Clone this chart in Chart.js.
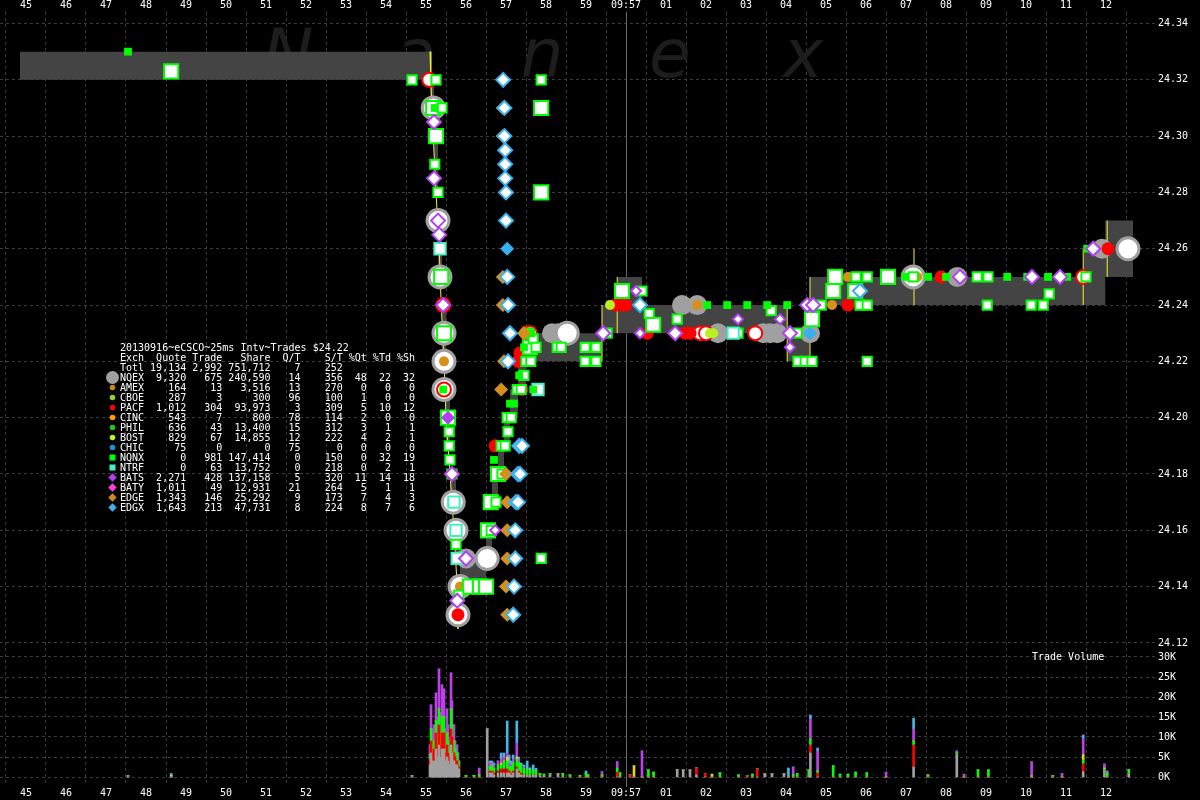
<!DOCTYPE html>
<html>
<head>
<meta charset="utf-8">
<script src="https://cdn.jsdelivr.net/npm/chart.js@4.4.1/dist/chart.umd.min.js"></script>
<style>
  body { margin: 0; background: #000; }
  #wrap { position: relative; width: 1200px; height: 800px; background: #000; overflow: hidden; }
  #chart { position: absolute; left: 0; top: 0; }
  #stats { position: absolute; left: 120px; top: 343px; margin: 0; font: 10px/10px "DejaVu Sans Mono", monospace; color: #fff; white-space: pre; }
  #volTitle { position: absolute; left: 1032px; top: 652px; font: 10px/10px "DejaVu Sans Mono", monospace; color: #fff; white-space: pre; }
</style>
</head>
<body>
<div id="wrap">
  <canvas id="chart" width="1200" height="800"></canvas>
  <pre id="stats"></pre>
  <div id="volTitle">Trade Volume</div>
</div>
<script>
// time is seconds after 09:56:00 (60 = 09:57:00)
const timeTicks = [45, 46, 47, 48, 49, 50, 51, 52, 53, 54, 55, 56, 57, 58, 59, 60, 61, 62, 63, 64, 65, 66, 67, 68, 69, 70, 71, 72];
const priceTicks = [24.12, 24.14, 24.16, 24.18, 24.20, 24.22, 24.24, 24.26, 24.28, 24.30, 24.32, 24.34];
const volumeTicks = [0, 5, 10, 15, 20, 25, 30]; // thousands of shares

// axis ranges
const X_MIN = 44.35, X_MAX = 73.225;
const P_MIN = 24.0699, P_MAX = 24.34408;
const V_MIN = -1.75, V_MAX = 191.25;

// NBBO spread (bid / ask steps)
const nbboTime = [44.85, 55.10, 55.20, 55.30, 55.40, 55.50, 55.60, 55.75, 55.85, 56.50, 56.65, 56.80, 56.95, 57.10, 57.30, 57.50, 59.40, 59.78, 60.40, 64.03, 64.60, 71.43, 71.98, 72.68];
const nbboBid  = [24.32, 24.30, 24.28, 24.25, 24.22, 24.19, 24.17, 24.15, 24.14, 24.15, 24.17, 24.18, 24.19, 24.20, 24.21, 24.22, 24.23, 24.23, 24.23, 24.22, 24.24, 24.24, 24.25, 24.25];
const nbboAsk  = [24.33, 24.32, 24.30, 24.27, 24.24, 24.21, 24.18, 24.16, 24.15, 24.16, 24.18, 24.19, 24.20, 24.21, 24.22, 24.23, 24.24, 24.25, 24.24, 24.23, 24.25, 24.26, 24.27, 24.27];

// yellow NBBO edges
const yellowPath = [[55.10, 24.33], [55.12, 24.32], [55.18, 24.30], [55.25, 24.28], [55.33, 24.26], [55.38, 24.24], [55.45, 24.22], [55.50, 24.20], [55.60, 24.18], [55.70, 24.16], [55.78, 24.14], [55.80, 24.125]];
const yellowSteps = [[59.40, 24.22, 24.24], [59.78, 24.23, 24.25], [64.03, 24.22, 24.24], [64.60, 24.22, 24.25], [67.20, 24.24, 24.26], [71.43, 24.24, 24.26], [72.03, 24.25, 24.27]];

// trades / quotes  [time, price]
const nqnxBig = [[48.63, 24.323], [55.18, 24.31], [55.25, 24.30], [55.38, 24.25], [55.45, 24.23], [55.55, 24.20], [56.10, 24.14], [56.35, 24.14], [56.50, 24.14], [56.55, 24.16], [56.62, 24.17], [56.80, 24.18], [57.88, 24.31], [57.88, 24.28], [59.90, 24.245], [60.68, 24.233], [65.23, 24.25], [65.73, 24.245], [66.55, 24.25], [65.18, 24.245], [57.60, 24.225], [64.65, 24.235]];
const nqnxSmall = [[54.65, 24.32], [55.25, 24.32], [55.40, 24.31], [55.22, 24.29], [55.30, 24.28], [55.58, 24.195], [55.58, 24.19], [55.60, 24.185], [55.68, 24.17], [55.75, 24.155], [55.65, 24.18], [55.82, 24.137], [57.88, 24.32], [57.88, 24.15], [56.75, 24.17], [56.90, 24.18], [56.63, 24.16], [56.88, 24.19], [56.98, 24.19], [57.03, 24.20], [57.13, 24.20], [57.05, 24.195], [57.28, 24.21], [57.38, 24.21], [57.45, 24.215], [57.50, 24.22], [57.62, 24.22], [57.55, 24.23], [57.68, 24.228], [57.75, 24.225], [58.28, 24.225], [58.38, 24.225], [58.98, 24.225], [59.25, 24.225], [58.98, 24.22], [59.25, 24.22], [59.53, 24.23], [60.40, 24.245], [60.58, 24.237], [61.28, 24.235], [62.80, 24.23], [63.63, 24.238], [64.28, 24.23], [64.30, 24.22], [64.48, 24.22], [64.65, 24.22], [64.88, 24.24], [65.75, 24.25], [66.03, 24.25], [65.85, 24.24], [66.03, 24.24], [67.18, 24.25], [68.78, 24.25], [69.05, 24.25], [69.03, 24.24], [70.13, 24.24], [70.43, 24.24], [70.58, 24.244], [71.50, 24.25], [66.03, 24.22]];
const nqnxSolid = [[47.55, 24.33], [55.22, 24.31], [55.40, 24.24], [55.43, 24.21], [55.62, 24.18], [56.70, 24.185], [57.10, 24.205], [57.20, 24.205], [57.33, 24.215], [57.45, 24.225], [57.63, 24.23], [57.68, 24.21], [62.03, 24.24], [62.53, 24.24], [63.03, 24.24], [63.53, 24.24], [64.03, 24.24], [66.98, 24.25], [67.55, 24.25], [68.00, 24.25], [69.53, 24.25], [70.03, 24.25], [70.55, 24.25], [71.03, 24.25], [71.53, 24.26]];
const ntrfTrades = [[55.35, 24.26], [55.70, 24.17], [55.75, 24.16], [55.78, 24.15], [57.80, 24.21], [62.68, 24.23]];
const nqexRing = [[55.18, 24.31], [55.30, 24.27], [55.35, 24.25], [55.45, 24.23], [55.45, 24.22], [55.45, 24.21], [55.68, 24.17], [55.75, 24.16], [55.85, 24.14], [55.80, 24.13], [56.53, 24.15], [58.53, 24.23], [67.18, 24.25], [72.55, 24.26]];
const nqexSolid = [[56.00, 24.15], [58.15, 24.23], [58.30, 24.23], [61.40, 24.24], [61.78, 24.24], [62.30, 24.23], [63.43, 24.23], [63.60, 24.23], [63.78, 24.23], [64.60, 24.23], [68.28, 24.25], [71.90, 24.26]];
const pacfRing = [[55.08, 24.32], [55.43, 24.24], [57.53, 24.23], [57.60, 24.23], [61.85, 24.23], [62.00, 24.23], [63.23, 24.23], [71.43, 24.25], [55.45, 24.21]];
const pacfSolid = [[55.65, 24.18], [55.80, 24.13], [56.73, 24.19], [57.30, 24.22], [57.40, 24.21], [57.35, 24.223], [59.73, 24.24], [59.90, 24.24], [60.00, 24.24], [60.53, 24.23], [61.48, 24.23], [61.60, 24.23], [64.55, 24.24], [65.55, 24.24], [67.88, 24.25], [72.05, 24.26]];
const amexTrades = [[55.45, 24.22], [55.85, 24.14], [61.78, 24.24], [65.15, 24.24], [65.55, 24.25], [67.28, 24.25], [57.45, 24.23]];
const bostTrades = [[59.60, 24.24], [62.10, 24.23], [62.18, 24.23]];
const batsDia = [[55.20, 24.305], [55.20, 24.285], [55.30, 24.27], [55.33, 24.265], [55.43, 24.24], [55.65, 24.18], [56.00, 24.15], [55.78, 24.135], [59.43, 24.23], [61.23, 24.23], [64.10, 24.23], [64.53, 24.24], [64.68, 24.24], [68.35, 24.25], [70.15, 24.25], [70.85, 24.25], [71.68, 24.26]];
const batsSmall = [[60.25, 24.245], [60.35, 24.23], [62.80, 24.235], [63.85, 24.235], [64.10, 24.225], [56.73, 24.16]];
const batsSolid = [[55.55, 24.20]];
const edgeDia = [[56.92, 24.31], [56.92, 24.30], [56.92, 24.25], [56.92, 24.24], [56.88, 24.21], [56.95, 24.22], [57.00, 24.18], [57.03, 24.17], [57.03, 24.16], [57.03, 24.15], [57.00, 24.14], [57.03, 24.13], [57.45, 24.23]];
const edgxDia = [[56.93, 24.32], [56.96, 24.31], [56.96, 24.30], [56.98, 24.295], [56.98, 24.29], [56.98, 24.285], [57.00, 24.28], [57.00, 24.27], [57.03, 24.25], [57.05, 24.24], [57.10, 24.23], [57.05, 24.22], [57.33, 24.19], [57.40, 24.19], [57.30, 24.18], [57.35, 24.18], [57.25, 24.17], [57.30, 24.17], [57.23, 24.16], [57.23, 24.15], [57.20, 24.14], [57.18, 24.13], [60.35, 24.24], [65.85, 24.245]];
const edgxSolid = [[57.03, 24.26], [64.60, 24.23]];

// trade volume per interval, thousands of shares
const volTime = [
  47.55, 48.63, 54.65, 55.100, 55.125, 55.150, 55.175, 55.200, 55.225, 55.250,
  55.275, 55.300, 55.325, 55.350, 55.375, 55.400, 55.425, 55.450, 55.475, 55.500,
  55.525, 55.550, 55.575, 55.600, 55.625, 55.650, 55.675, 55.700, 55.725, 55.750,
  55.775, 55.800, 55.825, 56.00, 56.20, 56.33, 56.53, 56.60, 56.65, 56.70,
  56.80, 56.88, 56.95, 57.03, 57.08, 57.13, 57.18, 57.27, 57.32, 57.38,
  57.45, 57.53, 57.60, 57.68, 57.75, 57.85, 57.95, 58.10, 58.30, 58.42,
  58.60, 58.85, 59.00, 59.05, 59.40, 59.78, 59.85, 60.10, 60.20, 60.40,
  60.56, 60.69, 61.28, 61.43, 61.60, 61.76, 61.98, 62.15, 62.35, 62.81,
  63.03, 63.16, 63.28, 63.47, 63.65, 63.95, 64.06, 64.18, 64.28, 64.57,
  64.61, 64.79, 65.18, 65.35, 65.55, 65.74, 66.02, 66.50, 67.19, 67.55,
  68.27, 68.45, 68.80, 69.06, 70.14, 70.67, 70.90, 71.43, 71.96, 72.03,
  72.57];
const volNqex = [
  0, 0, 0, 3, 6, 4, 3, 4, 3, 7,
  5, 4, 8, 5, 3, 7, 5, 7, 4, 3,
  5, 4, 3, 3, 8, 6, 4, 4, 3, 3,
  3, 2, 2, 0, 0, 0, 12, 1, 1, 0.5,
  1, 1, 1, 1, 1, 0.5, 1, 2, 1, 0.5,
  0.5, 0.5, 0.3, 0.5, 0.5, 0.3, 0.2, 0.5, 0.8, 0,
  0, 0, 0, 0, 0, 0, 0, 0, 0, 0,
  0, 0, 1.9, 1.75, 1.75, 0.5, 0, 0, 0, 0,
  0, 0, 0, 0.8, 0.8, 0.8, 0, 0, 0, 0,
  6, 0, 0, 0, 0, 0, 0, 0, 2.5, 0,
  5.5, 0, 0, 0, 0, 0, 0, 1.3, 1.5, 0,
  0.8];
const volPacf = [
  0, 0, 0, 1.5, 3, 2, 2, 3, 1, 4,
  3, 2, 5, 3, 2, 4, 3, 4, 2, 2,
  3, 2, 2, 2, 4, 4, 2, 2, 2, 1,
  1, 1, 0.5, 0, 0, 0, 0, 0.5, 0.5, 0.5,
  0.5, 1, 1, 1, 0.5, 0.5, 0.5, 0.5, 0.5, 0.5,
  0, 0, 0, 0, 0, 0, 0, 0, 0, 0,
  0, 0, 0, 0, 0, 1.2, 0, 0.5, 0, 0,
  0, 0, 0, 0, 0, 1.75, 0.9, 0, 0, 0,
  0.3, 0, 2, 0, 0, 0, 0, 0, 0, 0,
  2, 1, 0, 0, 0, 0, 0, 0, 5.5, 0,
  0, 0, 0, 0, 0, 0, 0, 2, 0, 0,
  0];
const volNqnx = [
  0.3, 0, 0.3, 1, 3, 2, 2, 2, 2, 3,
  3, 2, 4, 3, 2, 4, 2, 4, 2, 2,
  3, 3, 2, 1, 5, 3, 2, 3, 2, 1,
  2, 1, 1, 0.3, 0.4, 0.5, 0, 1, 1.5, 1,
  1.5, 1, 2, 2, 1, 1.5, 2, 2, 2, 2,
  1.5, 1.5, 1.5, 1, 1.2, 0.6, 0.5, 0.3, 0, 0.8,
  0.5, 0.3, 0.8, 0.5, 0.5, 1, 1, 0, 0, 0,
  1.75, 1.2, 0, 0, 0, 0, 0, 0, 1, 0.5,
  0, 0.7, 0, 0, 0, 0, 0, 0.5, 0.8, 1.75,
  1.5, 0.5, 2.75, 0.7, 0.7, 1.2, 1, 0, 1, 0.5,
  0.5, 0, 1.75, 1.75, 0, 0.3, 0, 1, 0.5, 1,
  1];
const volOther = [
  0, 0.4, 0, 0, 0, 0, 0, 0, 0, 0,
  0, 0, 0, 0, 0, 0, 0, 0, 0, 0,
  0, 0, 0, 0, 0, 0, 0, 0, 0, 0,
  0, 0, 0, 0, 0, 0, 0, 0, 0, 0,
  0, 0.5, 0, 1, 0, 0, 0, 0.5, 0, 0,
  0, 0, 0, 0, 0, 0, 0, 0, 0, 0,
  0, 0, 0, 0, 0, 0, 0, 0, 2.8, 0,
  0, 0, 0, 0, 0, 0, 0, 0.7, 0, 0,
  0, 0, 0, 0, 0, 0, 0, 0, 0, 0,
  0, 0, 0, 0, 0, 0, 0, 0, 0, 0,
  0, 0, 0, 0, 0.3, 0, 0, 1.3, 0.25, 0,
  0];
const volBats = [
  0, 0, 0, 2.5, 6, 4, 3, 4, 3, 7,
  4, 3, 10, 5, 3, 8, 4, 7, 4, 2,
  6, 4, 3, 2, 9, 6, 3, 4, 2, 2,
  2, 2, 0.5, 0, 0, 1.7, 0, 1, 0.5, 1,
  1, 1, 1, 1, 1, 0.5, 1, 3.5, 1, 0,
  0.5, 0, 0, 0, 0, 0, 0, 0, 0, 0,
  0, 0, 0, 0, 0.8, 1.6, 0, 0, 0, 6.5,
  0, 0, 0, 0, 0, 0, 0, 0, 0, 0,
  0, 0, 0, 0, 0, 0, 0, 2, 0, 0,
  5, 5, 0, 0, 0, 0, 0, 1.2, 3, 0,
  0.5, 0.7, 0, 0, 3.5, 0, 0.9, 4, 1, 0.5,
  0];
const volEdgx = [
  0, 0.5, 0, 0, 0, 0, 0, 0, 0, 0,
  0, 0, 0, 0, 0, 0, 0, 0, 0, 0,
  0, 0, 0, 0, 0, 0, 0, 0, 0, 0,
  0, 0, 0, 0, 0, 0, 0, 0.5, 0.5, 0.5,
  0, 1.5, 1, 8, 2, 1, 1, 5.5, 0.5, 0.5,
  0.5, 2, 0.5, 1.5, 0.5, 0, 0, 0, 0, 0,
  0, 0, 0.7, 0, 0, 0, 0, 0, 0, 0,
  0, 0, 0, 0, 0, 0, 0, 0, 0, 0,
  0, 0, 0, 0, 0, 0, 2.25, 0, 0, 0,
  1, 0.75, 0, 0, 0, 0, 0, 0, 2.7, 0,
  0, 0, 0, 0, 0, 0, 0, 0.9, 0, 0,
  0];

// exchange statistics table
const tableTitle = '20130916~eCSCO~25ms Intv~Trades $24.22';
const exchanges = ['Totl', 'NQEX', 'AMEX', 'CBOE', 'PACF', 'CINC', 'PHIL', 'BOST', 'CHIC', 'NQNX', 'NTRF', 'BATS', 'BATY', 'EDGE', 'EDGX'];
const quotes = [19134, 9320, 164, 287, 1012, 543, 636, 829, 75, 0, 0, 2271, 1011, 1343, 1643];
const trades = [2992, 675, 13, 3, 304, 7, 43, 67, 0, 981, 63, 428, 49, 146, 213];
const shares = [751712, 240590, 3516, 300, 93973, 800, 13400, 14855, 0, 147414, 13752, 137158, 12931, 25292, 47731];
const quotesPerTrade = [7, 14, 13, 96, 3, 78, 15, 12, 75, 0, 0, 5, 21, 9, 8];
const sharesPerTrade = [252, 356, 270, 100, 309, 114, 312, 222, 0, 150, 218, 320, 264, 173, 224];
const pctQuotes = [null, 48, 0, 1, 5, 2, 3, 4, 0, 0, 0, 11, 5, 7, 8];
const pctTrades = [null, 22, 0, 0, 10, 0, 1, 2, 0, 32, 2, 14, 1, 4, 7];
const pctShares = [null, 32, 0, 0, 12, 0, 1, 1, 0, 19, 1, 18, 1, 3, 6];

// ---- table text
const fmt = (n) => n === null ? '' : n.toLocaleString('en-US');
const colW = [7, 6, 8, 5, 7, 4, 4, 4];
const header = ['Quote', 'Trade', 'Share', 'Q/T', 'S/T', '%Qt', '%Td', '%Sh'];
const lines = [tableTitle, 'Exch' + header.map((h, i) => h.padStart(colW[i])).join('')];
exchanges.forEach((ex, r) => {
  const cols = [quotes[r], trades[r], shares[r], quotesPerTrade[r], sharesPerTrade[r], pctQuotes[r], pctTrades[r], pctShares[r]];
  lines.push((ex + cols.map((v, i) => fmt(v).padStart(colW[i])).join('')).replace(/\s+$/, ''));
});
document.getElementById('stats').textContent = lines.join('\n');

// ---- helpers
const pts = (pairs) => pairs.map(([t, p]) => ({x: t, y: p}));

function stepLine(times, values) {
  const out = [];
  for (let i = 0; i < times.length; i++) {
    if (i > 0) out.push({x: times[i], y: values[i - 1]});
    out.push({x: times[i], y: values[i]});
  }
  return out;
}

const yellowData = pts(yellowPath);
yellowSteps.forEach(([t, lo, hi]) => {
  yellowData.push({x: t, y: null}, {x: t, y: lo}, {x: t, y: hi});
});

function marks(label, pairs, shape, radius, fill, edge, edgeWidth, order) {
  return {
    type: 'scatter', label: label, data: pts(pairs), order: order,
    pointStyle: shape, pointRadius: radius, pointHoverRadius: radius,
    pointBackgroundColor: fill, pointBorderColor: edge, pointBorderWidth: edgeWidth
  };
}

function volBars(label, values, color) {
  return {
    type: 'bar', label: label, yAxisID: 'yv', stack: 'vol', order: 50,
    data: volTime.map((t, i) => ({x: t, y: values[i]})),
    backgroundColor: color, barThickness: 2, borderWidth: 0
  };
}

function timeLabel(v) {
  if (v < 60) return String(v);
  if (v === 60) return '09:57';
  return String(v - 60).padStart(2, '0');
}

const yTickLabels = [];
function buildPriceTicks(scale) {
  const list = priceTicks.map(p => ({value: p, label: p.toFixed(2)}));
  volumeTicks.forEach(v => list.push({
    value: P_MIN + (v - V_MIN) / (V_MAX - V_MIN) * (P_MAX - P_MIN),
    label: v + 'K'
  }));
  list.sort((a, b) => a.value - b.value);
  yTickLabels.length = 0;
  list.forEach(t => yTickLabels.push(t.label));
  scale.ticks = list.map(t => ({value: t.value}));
}

function fitX(height) {
  return (s) => { s.height = height; s.paddingLeft = 0; s.paddingRight = 0; };
}

const tickFont = {family: 'DejaVu Sans Mono', size: 10};

const backdrop = {
  id: 'backdrop',
  beforeDatasetsDraw(chart) {
    const ctx = chart.ctx;
    const area = chart.chartArea;
    ctx.save();
    ctx.font = 'oblique 68px "DejaVu Sans"';
    ctx.fillStyle = '#1d1d1d';
    ctx.textAlign = 'center';
    ctx.textBaseline = 'alphabetic';
    [['N', 288], ['a', 415], ['n', 542], ['e', 670], ['x', 803]].forEach(([c, x]) => ctx.fillText(c, x, 77));
    const px = Math.round(chart.scales.x.getPixelForValue(60)) + 0.5;
    ctx.strokeStyle = '#6a6a6a';
    ctx.lineWidth = 1;
    ctx.beginPath();
    ctx.moveTo(px, area.top);
    ctx.lineTo(px, area.bottom + 3);
    ctx.stroke();
    ctx.restore();
  }
};

// legend markers beside the table rows
const legendMarks = {
  id: 'legendMarks',
  afterDraw(chart) {
    const ctx = chart.ctx;
    const styles = [
      ['circle', '#a0a0a0', 6.5], ['circle', '#c8881e', 2.8], ['circle', '#9acd32', 2.8],
      ['circle', '#ff0000', 2.8], ['circle', '#ffa000', 2.8], ['circle', '#22c422', 2.8],
      ['circle', '#c0f020', 2.8], ['circle', '#2090d0', 2.8], ['square', '#00ff00', 3],
      ['square', '#40f0c0', 3], ['diamond', '#b040f0', 4.2], ['diamond', '#ff40d8', 4.2],
      ['diamond', '#d08a20', 4.2], ['diamond', '#40b0f0', 4.2]
    ];
    ctx.save();
    styles.forEach(([shape, color, r], i) => {
      const x = 112.5, y = 377.5 + i * 10;
      ctx.fillStyle = color;
      ctx.beginPath();
      if (shape === 'circle') ctx.arc(x, y, r, 0, Math.PI * 2);
      else if (shape === 'square') ctx.rect(x - r, y - r, 2 * r, 2 * r);
      else { ctx.moveTo(x - r, y); ctx.lineTo(x, y - r); ctx.lineTo(x + r, y); ctx.lineTo(x, y + r); ctx.closePath(); }
      ctx.fill();
    });
    ctx.restore();
  }
};

const datasets = [
  {type: 'line', label: 'ask', data: stepLine(nbboTime, nbboAsk), showLine: true, borderWidth: 1, borderColor: 'rgba(0,0,0,0)', pointRadius: 0, fill: '+1', backgroundColor: '#444444', order: 100},
  {type: 'line', label: 'bid', data: stepLine(nbboTime, nbboBid), showLine: true, borderWidth: 1, borderColor: 'rgba(0,0,0,0)', pointRadius: 0, fill: false, order: 100},
  {type: 'line', label: 'edge', data: yellowData, showLine: true, spanGaps: false, borderWidth: 1, borderColor: '#f4f030', pointRadius: 0, fill: false, order: 95},
  marks('NQEX', nqexSolid, 'circle', 10, '#a0a0a0', '#a0a0a0', 0, 90),
  marks('NQEX', nqexRing, 'circle', 11, '#ffffff', '#a0a0a0', 3, 89),
  marks('PACF', pacfRing, 'circle', 7, '#ffffff', '#ff0000', 2, 85),
  marks('PACF', pacfSolid, 'circle', 6.5, '#ff0000', '#ff0000', 0, 84),
  marks('AMEX', amexTrades, 'circle', 5, '#d8901c', '#d8901c', 0, 83),
  marks('BOST', bostTrades, 'circle', 5, '#b8f020', '#b8f020', 0, 82),
  marks('NQNX', nqnxBig, 'rect', 10, '#ffffff', '#00ff00', 2, 80),
  marks('NQNX', nqnxSmall, 'rect', 6.5, '#ffffff', '#00ff00', 2, 79),
  marks('NTRF', ntrfTrades, 'rect', 8, '#ffffff', '#40f0c0', 2, 78),
  marks('NQNX', nqnxSolid, 'rect', 5.5, '#00ff00', '#00ff00', 0, 77),
  marks('EDGE', edgeDia, 'rectRot', 7, '#d4901e', '#d4901e', 0, 70),
  marks('EDGX', edgxDia, 'rectRot', 7, '#ffffff', '#38b0f0', 2, 69),
  marks('EDGX', edgxSolid, 'rectRot', 7, '#38b0f0', '#38b0f0', 0, 68),
  marks('BATS', batsDia, 'rectRot', 7, '#ffffff', '#b040f0', 2, 66),
  marks('BATS', batsSmall, 'rectRot', 5, '#ffffff', '#b040f0', 2, 65),
  marks('BATS', batsSolid, 'rectRot', 7, '#b040f0', '#b040f0', 0, 64),
  volBars('NQEX vol', volNqex, '#a0a0a0'),
  volBars('PACF vol', volPacf, '#ff0000'),
  volBars('NQNX vol', volNqnx, '#00ff00'),
  volBars('other vol', volOther, '#e8d020'),
  volBars('BATS vol', volBats, '#c040e8'),
  volBars('EDGX vol', volEdgx, '#40b8e8')
];

new Chart(document.getElementById('chart'), {
  type: 'scatter',
  data: {datasets: datasets},
  plugins: [backdrop, legendMarks],
  options: {
    responsive: false,
    devicePixelRatio: 1,
    animation: false,
    events: [],
    layout: {padding: 0, autoPadding: false},
    plugins: {legend: {display: false}, tooltip: {enabled: false}},
    scales: {
      x: {
        type: 'linear', position: 'bottom', min: X_MIN, max: X_MAX, offset: false, bounds: 'data',
        afterBuildTicks: (s) => { s.ticks = timeTicks.map(v => ({value: v})); },
        afterFit: fitX(16),
        ticks: {color: '#ffffff', font: tickFont, padding: 3, maxRotation: 0, autoSkip: false, callback: timeLabel},
        grid: {color: '#3c3c3c', drawTicks: false, lineWidth: 1},
        border: {display: false, dash: [3, 3]}
      },
      xTop: {
        axis: 'x', type: 'linear', position: 'top', min: X_MIN, max: X_MAX, offset: false, bounds: 'data',
        afterBuildTicks: (s) => { s.ticks = timeTicks.map(v => ({value: v})); },
        afterFit: fitX(12),
        ticks: {color: '#ffffff', font: tickFont, padding: 1, maxRotation: 0, autoSkip: false, callback: timeLabel},
        grid: {display: false, drawTicks: false},
        border: {display: false}
      },
      y: {
        type: 'linear', position: 'right', min: P_MIN, max: P_MAX, bounds: 'data',
        afterBuildTicks: buildPriceTicks,
        afterFit: (s) => { s.width = 45; s.paddingTop = 0; s.paddingBottom = 0; },
        ticks: {color: '#ffffff', font: tickFont, padding: 3, autoSkip: false, callback: (v, i) => yTickLabels[i]},
        grid: {color: '#3c3c3c', drawTicks: false, lineWidth: 1},
        border: {display: false, dash: [3, 3]}
      },
      yv: {
        type: 'linear', display: false, stacked: true, min: V_MIN, max: V_MAX, bounds: 'data'
      }
    }
  }
});
</script>
</body>
</html>
